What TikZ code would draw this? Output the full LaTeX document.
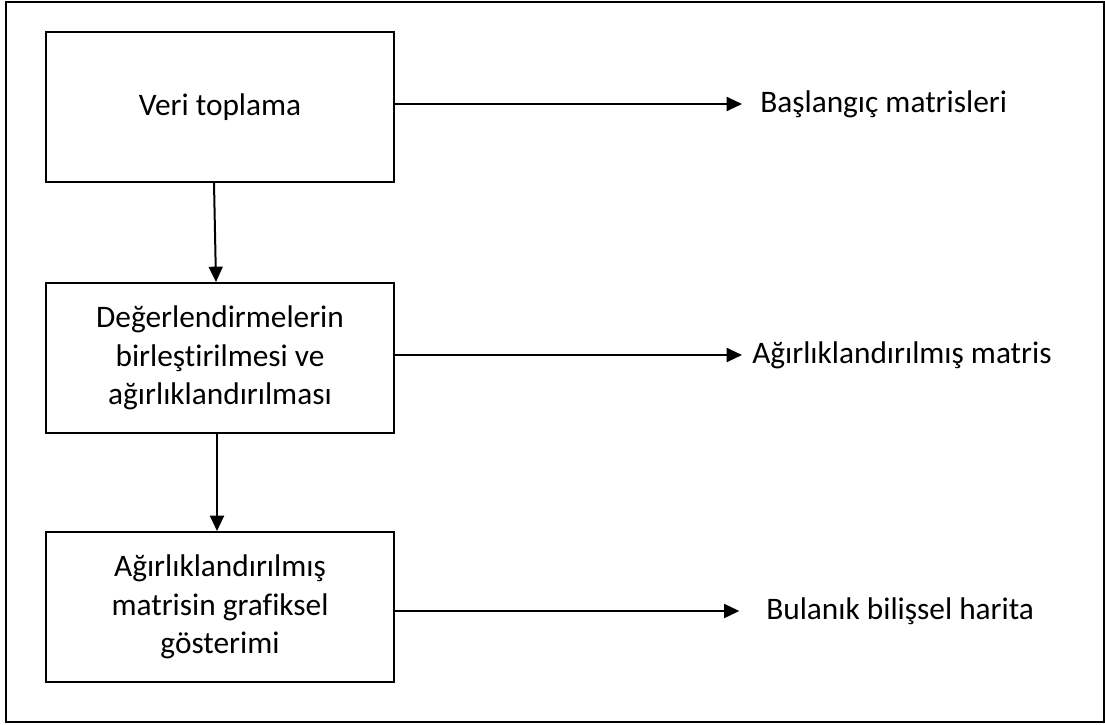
\documentclass[tikz,border=0pt]{standalone}
\usepackage{fontspec}
\setmainfont{Carlito}[Ligatures=NoCommon]
\usetikzlibrary{arrows.meta}
\begin{document}
\begin{tikzpicture}[x=0.75pt,y=-0.75pt,
  stagebox/.style={draw,line width=1.5pt,minimum width=261pt,minimum height=112.5pt,
    align=center,inner sep=0pt,font=\fontsize{23.5}{29}\selectfont},
  outtext/.style={anchor=west,inner sep=0pt,font=\fontsize{23.5}{29}\selectfont},
  flow/.style={line width=1.5pt,-{Triangle[length=11.5pt,width=10.5pt]}}]
\useasboundingbox (0,0) rectangle (1105,724);
% outer frame
\draw[line width=1.5pt] (6,2) rectangle (1104,722);
% process steps
\node[stagebox] (b1) at (220,107) {Veri toplama};
\node[stagebox] (b2) at (220,358) {Değerlendirmelerin\\birleştirilmesi ve\\ağırlıklandırılması};
\node[stagebox] (b3) at (220,607) {Ağırlıklandırılmış\\matrisin grafiksel\\gösterimi};
% outputs
\node[outtext] (t1) at (760,104) {Başlangıç matrisleri};
\node[outtext] (t2) at (752,355) {Ağırlıklandırılmış matris};
\node[outtext] (t3) at (766,611) {Bulanık bilişsel harita};
% connectors
\draw[flow] ([xshift=-4.5pt]b1.south) -- ([xshift=-3pt]b2.north);
\draw[flow] ([xshift=-2.25pt]b2.south) -- ([xshift=-2.25pt]b3.north);
\draw[flow,shorten >=13.5pt] (b1.east |- t1.west) -- (t1.west);
\draw[flow,shorten >=7.5pt] (b2.east |- t2.west) -- (t2.west);
\draw[flow,shorten >=20pt] (b3.east |- t3.west) -- (t3.west);
\end{tikzpicture}
\end{document}
